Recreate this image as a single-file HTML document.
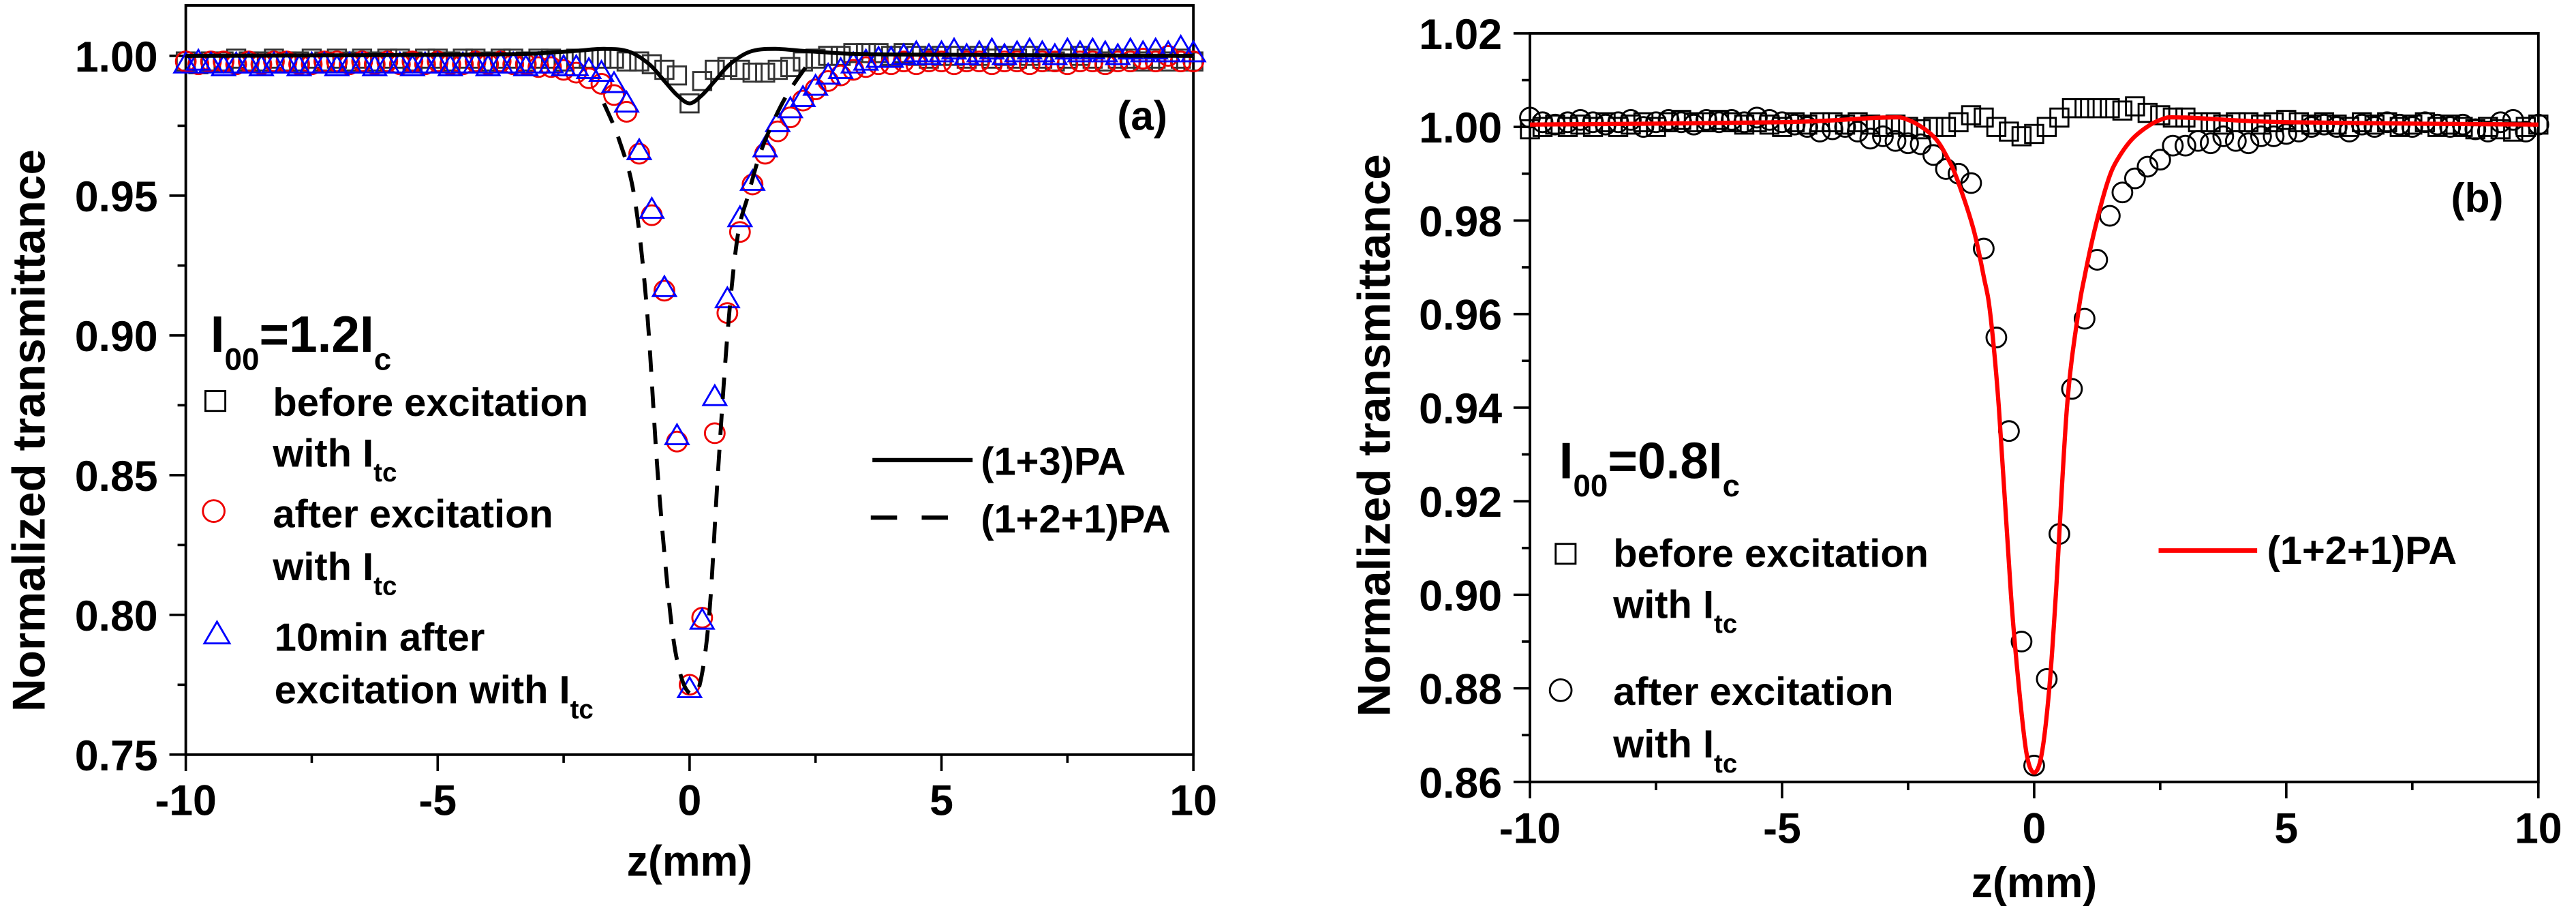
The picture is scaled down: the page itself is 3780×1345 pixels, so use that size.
<!DOCTYPE html>
<html><head><meta charset="utf-8"><style>
html,body{margin:0;padding:0;background:#fff;width:3780px;height:1345px;overflow:hidden}
svg{display:block}
text{font-family:"Liberation Sans",sans-serif;font-weight:bold;fill:#000}
</style></head><body>
<svg id="chart" width="3780" height="1345" viewBox="0 0 1568 558" xmlns="http://www.w3.org/2000/svg">
<g id="pa"></g>
<g id="pb"></g>
</svg>
<script>
const zVals=[-10,-9.75,-9.5,-9.25,-9,-8.75,-8.5,-8.25,-8,-7.75,-7.5,-7.25,-7,-6.75,-6.5,-6.25,-6,-5.75,-5.5,-5.25,-5,-4.75,-4.5,-4.25,-4,-3.75,-3.5,-3.25,-3,-2.75,-2.5,-2.25,-2,-1.75,-1.5,-1.25,-1,-0.75,-0.5,-0.25,0,0.25,0.5,0.75,1,1.25,1.5,1.75,2,2.25,2.5,2.75,3,3.25,3.5,3.75,4,4.25,4.5,4.75,5,5.25,5.5,5.75,6,6.25,6.5,6.75,7,7.25,7.5,7.75,8,8.25,8.5,8.75,9,9.25,9.5,9.75,10];
// panel a
const aSquares=[0.998,0.997,0.998,0.998,0.999,0.998,0.998,0.999,0.998,0.998,0.999,0.998,0.999,0.998,0.999,0.998,0.999,0.999,0.998,0.999,0.999,0.998,0.999,0.999,0.998,0.999,0.999,0.998,0.999,0.999,0.998,0.999,0.999,0.999,0.999,0.998,0.998,0.997,0.995,0.993,0.983,0.991,0.995,0.996,0.995,0.994,0.994,0.995,0.996,0.998,0.999,1.000,1.000,1.001,1.001,1.001,1.000,1.001,1.000,0.999,1.000,1.000,0.999,1.000,0.999,1.000,0.999,1.000,0.999,0.998,0.999,1.000,0.999,0.998,0.999,0.999,0.998,0.999,0.998,0.999,0.998];
const aCircles=[0.998,0.997,0.998,0.998,0.997,0.998,0.997,0.998,0.998,0.997,0.997,0.998,0.998,0.997,0.998,0.997,0.998,0.997,0.998,0.997,0.998,0.997,0.997,0.998,0.997,0.998,0.997,0.997,0.996,0.996,0.995,0.994,0.992,0.990,0.986,0.980,0.965,0.943,0.916,0.862,0.775,0.799,0.865,0.908,0.937,0.954,0.965,0.973,0.978,0.984,0.988,0.991,0.993,0.995,0.996,0.997,0.997,0.998,0.997,0.998,0.998,0.997,0.998,0.998,0.997,0.998,0.998,0.997,0.998,0.998,0.997,0.998,0.998,0.997,0.998,0.998,0.999,0.998,1.000,0.998,0.998];
const aTriangles=[0.997,0.998,0.997,0.996,0.997,0.997,0.996,0.997,0.997,0.996,0.997,0.997,0.996,0.997,0.997,0.996,0.997,0.997,0.996,0.997,0.997,0.996,0.997,0.997,0.996,0.997,0.997,0.996,0.997,0.997,0.996,0.996,0.995,0.994,0.990,0.983,0.966,0.945,0.917,0.864,0.7735,0.798,0.878,0.913,0.942,0.955,0.967,0.976,0.981,0.985,0.989,0.993,0.995,0.997,0.998,0.999,0.999,1.000,1.001,1.000,1.001,1.002,1.000,1.001,1.002,1.000,1.001,1.002,1.001,1.000,1.002,1.001,1.002,1.001,1.000,1.002,1.001,1.002,1.001,1.003,1.001];
const aSolidZ=[-10,-4,-2.5,-1.7,-1.2,-0.8,-0.5,-0.25,0,0.25,0.5,0.8,1.2,1.7,2.5,4,10];
const aSolidV=[1.0,1.0005,1.0015,1.0025,1.0015,0.997,0.991,0.986,0.983,0.986,0.991,0.997,1.0015,1.0025,1.0015,1.0005,1.0];
const aDashZ=[-1.7,-1.4,-1.1,-0.85,-0.63,-0.38,-0.2,0,0.2,0.39,0.56,0.75,0.95,1.16,1.4,1.7,2.0,2.47];
const aDashV=[0.983,0.97,0.95,0.91,0.85,0.80,0.78,0.772,0.775,0.80,0.85,0.90,0.935,0.95,0.965,0.978,0.988,1.0];
const aYTicks=["0.75","0.80","0.85","0.90","0.95","1.00"];
const xTicks=["-10","-5","0","5","10"];
// panel b
const bSquares=[0.9995,1.000,1.0005,1.000,1.0005,1.000,1.001,1.000,1.0005,1.001,1.000,1.001,1.0015,1.001,1.001,1.0015,1.001,1.0005,1.001,1.0005,1.000,1.001,1.0005,1.001,1.001,1.0005,1.001,1.0005,1.000,1.0005,1.000,0.9995,1.000,1.000,1.001,1.0025,1.002,1.000,0.999,0.998,0.9985,1.000,1.002,1.004,1.004,1.004,1.004,1.0035,1.0044,1.003,1.0025,1.002,1.002,1.001,1.001,1.0005,1.001,1.001,1.0005,1.001,1.0015,1.001,1.0005,1.001,1.0005,1.000,1.001,1.0005,1.001,1.000,1.0005,1.001,1.000,1.0005,1.000,0.9995,1.000,0.9995,0.999,1.000,1.0005];
const bCircles=[1.002,1.001,1.0005,1.001,1.0015,1.001,1.0005,1.001,1.0015,1.000,1.001,1.0015,1.001,1.0005,1.0015,1.001,1.0015,1.001,1.002,1.0015,1.001,1.0005,1.000,0.999,0.9995,1.000,0.999,0.9975,0.998,0.997,0.9965,0.9963,0.994,0.991,0.990,0.988,0.974,0.955,0.935,0.890,0.8635,0.882,0.913,0.944,0.959,0.9716,0.981,0.986,0.989,0.9915,0.993,0.996,0.996,0.997,0.9965,0.998,0.997,0.9965,0.998,0.998,0.9985,0.999,1.000,1.0005,1.000,0.999,1.0005,1.000,1.001,1.0005,1.000,1.001,1.0005,1.000,1.0005,0.9995,0.999,1.001,1.0015,0.999,1.0005];
const bFitZ=[-10,-5,-3,-2.5,-2,-1.7,-1.5,-1.2,-1.0,-0.87,-0.7,-0.46,-0.3,-0.15,0,0.15,0.3,0.43,0.65,0.87,1.0,1.2,1.45,1.65,2.0,2.5,3,5,10];
const bFitV=[1.0005,1.001,1.002,1.0015,0.998,0.993,0.988,0.978,0.968,0.96,0.94,0.90,0.88,0.866,0.862,0.866,0.88,0.90,0.94,0.96,0.968,0.978,0.988,0.993,0.998,1.0015,1.002,1.001,1.0005];
const bYTicks=["0.86","0.88","0.90","0.92","0.94","0.96","0.98","1.00","1.02"];

const NS="http://www.w3.org/2000/svg";
function mk(parent,tag,attrs,txt){const e=document.createElementNS(NS,tag);for(const k in attrs)e.setAttribute(k,attrs[k]);if(txt!==undefined)e.textContent=txt;parent.appendChild(e);return e;}
function smoothPath(pts){let d="M"+pts[0][0]+","+pts[0][1];for(let i=0;i<pts.length-1;i++){const p0=pts[Math.max(0,i-1)],p1=pts[i],p2=pts[i+1],p3=pts[Math.min(pts.length-1,i+2)];const c1=[p1[0]+(p2[0]-p0[0])/6,p1[1]+(p2[1]-p0[1])/6],c2=[p2[0]-(p3[0]-p1[0])/6,p2[1]-(p3[1]-p1[1])/6];d+=" C"+c1+" "+c2+" "+p2;}return d;}
function marker(g,type,x,y,color,name,s){s=s||1;let e;
 if(type==="sq"){e=mk(g,"rect",{x:x-5.5*s,y:y-5.5*s,width:11*s,height:11*s,fill:"none",stroke:color,"stroke-width":1.2});}
 else if(type==="ci"){e=mk(g,"circle",{cx:x,cy:y,r:6*s,fill:"none",stroke:color,"stroke-width":1.2});}
 else {e=mk(g,"polygon",{points:(x)+","+(y-7*s)+" "+(x-7*s)+","+(y+5*s)+" "+(x+7*s)+","+(y+5*s),fill:"none",stroke:color,"stroke-width":1.2});}
 
 
 return e;}

function axes(g,o){
 const X=z=>o.x0+(z+10)/20*(o.x1-o.x0);
 const Y=v=>o.yb-(v-o.vmin)*o.ppu;
 const fr=mk(g,"rect",{x:o.x0,y:o.yt,width:o.x1-o.x0,height:o.yb-o.yt,fill:"none",stroke:"#000","stroke-width":1.6});
 
 
 for(let i=0;i<=8;i++){const x=o.x0+i*(o.x1-o.x0)/8;mk(g,"line",{x1:x,y1:o.yb,x2:x,y2:o.yb+(i%2?5:10),stroke:"#000","stroke-width":1.5});}
 xTicks.forEach((t,i)=>{const e=mk(g,"text",{x:X(+t),y:o.xlb,"font-size":26,"text-anchor":"middle"},t);
  
  });
 const yt=o.ticks; const step=(+yt[1])-(+yt[0]);
 for(let i=0;i<yt.length*2-1;i++){const v=(+yt[0])+i*step/2;const y=Y(v);if(y<o.yt-0.5)break;mk(g,"line",{x1:o.x0,y1:y,x2:o.x0-(i%2?5:10),y2:y,stroke:"#000","stroke-width":1.5});}
 yt.forEach(t=>{const e=mk(g,"text",{x:o.x0-17,y:Y(+t)+9.5,"font-size":26,"text-anchor":"end"},t);
  
  });
 const xt=mk(g,"text",{x:(o.x0+o.x1)/2,y:o.xtb,"font-size":26,"text-anchor":"middle"},"z(mm)");
 
 
 const ytl=mk(g,"text",{x:0,y:0,"font-size":28,"text-anchor":"middle",transform:"translate("+o.ytx+","+o.ytc+") rotate(-90)"},"Normalized transmittance");
 
 
 return {X,Y};
}

// Panel A
const ga=document.getElementById("pa");
const A=axes(ga,{x0:113,x1:726.4,yt:3.3,yb:459.2,vmin:0.75,ppu:1700.8,ticks:aYTicks,ytx:27,ytc:262,xlb:496,xtb:533});
zVals.forEach((z,i)=>marker(ga,"sq",A.X(z),A.Y(aSquares[i]),"#333","point-before"));
zVals.forEach((z,i)=>marker(ga,"ci",A.X(z),A.Y(aCircles[i]),"#e00","point-after"));
zVals.forEach((z,i)=>marker(ga,"tr",A.X(z),A.Y(aTriangles[i]),"#00f","point-10min"));
const sa=mk(ga,"path",{d:smoothPath(aSolidZ.map((z,i)=>[A.X(z),A.Y(aSolidV[i])])),fill:"none",stroke:"#000","stroke-width":2.4});


const da=mk(ga,"path",{d:smoothPath(aDashZ.map((z,i)=>[A.X(z),A.Y(aDashV[i])])),fill:"none",stroke:"#000","stroke-width":2.4,"stroke-dasharray":"13,9"});


</script>
<script>
(function(){
const g=document.getElementById("pa");
function T(par,x,y,s,html,name){const t=document.createElementNS(NS,"text");t.setAttribute("x",x);t.setAttribute("y",y);t.setAttribute("font-size",s);t.innerHTML=html;par.appendChild(t);}
T(g,128,214,31,'I<tspan font-size="19" dy="11">00</tspan><tspan dy="-11">=1.2I</tspan><tspan font-size="19" dy="11">c</tspan>',"intensity-label");
marker(g,"sq",131,244,"#000","legend-square",1.1);
T(g,166,253,24,"before excitation","legend-before-text");
T(g,166,284,24,'with I<tspan font-size="16" dy="9">tc</tspan>',"legend-before-text2");
marker(g,"ci",130,311,"#e00","legend-circle",1.1);
T(g,166,321,24,"after excitation","legend-after-text");
T(g,166,353,24,'with I<tspan font-size="16" dy="9">tc</tspan>',"legend-after-text2");
marker(g,"tr",132,386,"#00f","legend-triangle",1.1);
T(g,167,396,24,"10min after","legend-10min-text");
T(g,167,428,24,'excitation with I<tspan font-size="16" dy="9">tc</tspan>',"legend-10min-text2");
const l1=mk(g,"line",{x1:531,y1:280,x2:592,y2:280,stroke:"#000","stroke-width":2.6});


T(g,597,289,24,"(1+3)PA","legend-1-3-pa");
const l2=mk(g,"line",{x1:530,y1:315,x2:592,y2:315,stroke:"#000","stroke-width":2.6,"stroke-dasharray":"16,15"});


T(g,597,324,24,"(1+2+1)PA","legend-1-2-1-pa");
T(g,680,79,25,"(a)","panel-label-a");

// Panel B
const gb=document.getElementById("pb");
const B=axes(gb,{x0:931.3,x1:1545.2,yt:20.3,yb:475.8,vmin:0.86,ppu:2846.9,ticks:bYTicks,ytx:846,ytc:265,xlb:513,xtb:546});
zVals.forEach((z,i)=>marker(gb,"sq",B.X(z),B.Y(bSquares[i]),"#000","point-before"));
zVals.forEach((z,i)=>marker(gb,"ci",B.X(z),B.Y(bCircles[i]),"#000","point-after"));
const fb=mk(gb,"path",{d:smoothPath(bFitZ.map((z,i)=>[B.X(z),B.Y(bFitV[i])])),fill:"none",stroke:"#f00","stroke-width":2.6});


T(gb,949,291,31,'I<tspan font-size="19" dy="11">00</tspan><tspan dy="-11">=0.8I</tspan><tspan font-size="19" dy="11">c</tspan>',"intensity-label");
marker(gb,"sq",953,337,"#000","legend-square",1.1);
T(gb,982,345,24,"before excitation","legend-before-text");
T(gb,982,376,24,'with I<tspan font-size="16" dy="9">tc</tspan>',"legend-before-text2");
marker(gb,"ci",950,420,"#000","legend-circle",1.1);
T(gb,982,429,24,"after excitation","legend-after-text");
T(gb,982,461,24,'with I<tspan font-size="16" dy="9">tc</tspan>',"legend-after-text2");
const l3=mk(gb,"line",{x1:1314,y1:335,x2:1374,y2:335,stroke:"#f00","stroke-width":2.8});


T(gb,1380,343,24,"(1+2+1)PA","legend-1-2-1-pa");
T(gb,1492,129,25,"(b)","panel-label-b");
})();
</script>
</body></html>
